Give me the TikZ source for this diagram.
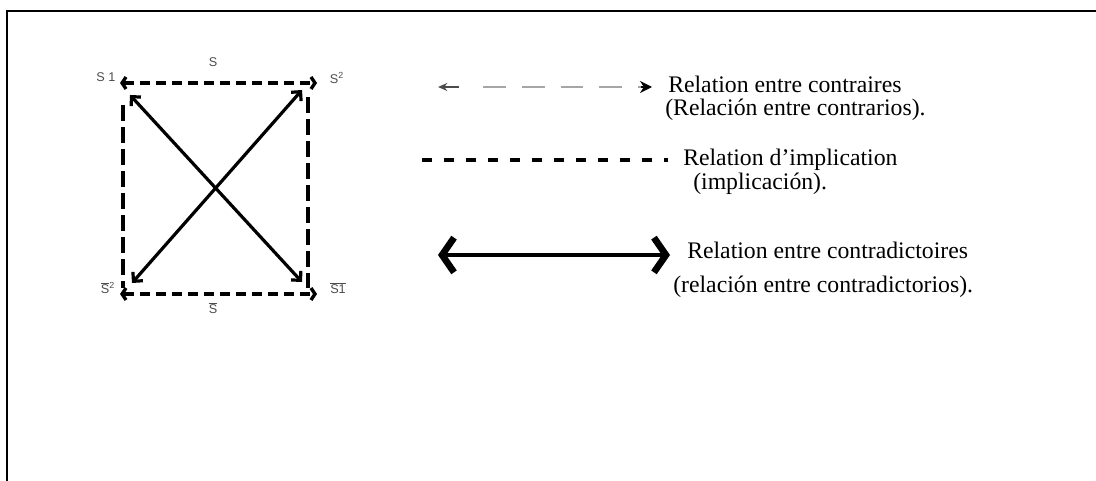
\documentclass[tikz,border=0pt]{standalone}
\usepackage{fontspec}
\setmainfont{Liberation Serif}
\setsansfont{Liberation Sans}
\usetikzlibrary{arrows.meta}
\tikzset{
  side/.style={line width=2.8pt,dash pattern=on 12pt off 4.5pt},
  opp/.style={line width=2.5pt,dash pattern=on 7.5pt off 4.5pt,
    {Straight Barb[length=3pt,width=9pt]}-{Straight Barb[length=3pt,width=9pt]}},
  diag/.style={line width=2.4pt,{Straight Barb[length=5pt,width=10pt]}-{Straight Barb[length=5pt,width=10pt]}},
  legtext/.style={anchor=base west,inner sep=0,font=\fontsize{17.8}{18}\selectfont},
  lbl/.style={inner sep=0,font=\sffamily\fontsize{9.5}{10}\selectfont,text=black!70}
}
\newcommand{\ovl}[1]{$\overline{\mbox{#1}}$}
\begin{document}
\begin{tikzpicture}[x=0.75pt,y=-0.75pt]
\useasboundingbox (0,0) rectangle (1096,481);
% frame
\draw[line width=2pt] (1096,11) -| (7,481);
% square
\coordinate (tl) at (120,83);
\coordinate (tr) at (317,83);
\coordinate (bl) at (120,294);
\coordinate (br) at (317,294);
\draw[opp] (tl) -- (tr);
\draw[opp] (bl) -- (br);
\draw[side] ([shift={(3,22)}]tl) -- ([shift={(3,-6)}]bl);
\draw[side] ([shift={(-9,14)}]tr) -- ([shift={(-9,-6)}]br);
\draw[diag] ([shift={(10,12)}]tl) -- ([shift={(-15,-12)}]br);
\draw[diag] ([shift={(-15,7)}]tr) -- ([shift={(12,-11)}]bl);
\node[lbl] (s) at (213,62) {S};
\node[lbl] (s1) at (106,77) {S 1};
\node[lbl] (s2) at (337,78) {S\textsuperscript{2}};
\node[lbl] (ns2) at (108,288) {\ovl{S}\textsuperscript{2}};
\node[lbl] (ns1) at (338,288) {\ovl{S1}};
\node[lbl] (ns) at (213,308) {\ovl{S}};
% legend
\coordinate (c1) at (438,87);
\coordinate (c2) at (652,87);
\draw[black!35,line width=1.4pt,dash pattern=on 17pt off 12pt] ([xshift=34]c1) -- ([xshift=-6]c2);
\draw[black!70,line width=1.5pt,-{Stealth[length=7pt,width=6pt]}] ([xshift=16]c1) -- (c1);
\draw[line width=1.5pt,-{Stealth[length=9pt,width=9pt]}] ([xshift=-8]c2) -- (c2);
\node[legtext] (t1) at (668,93) {Relation entre contraires};
\node[legtext] (t2) at (665,116) {(Relación entre contrarios).};
\coordinate (i1) at (422,160);
\coordinate (i2) at (668,160);
\draw[line width=3pt,dash pattern=on 7.5pt off 9pt] (i1) -- (i2);
\node[legtext] (t3) at (683,166) {Relation d’implication};
\node[legtext] (t4) at (693,190) {(implicación).};
\coordinate (k1) at (438,255);
\coordinate (k2) at (670,255);
\draw[line width=2.8pt,{Straight Barb[length=9pt,width=26pt,line width=5pt]}-{Straight Barb[length=9pt,width=26pt,line width=5pt]}] (k1) -- (k2);
\node[legtext] (t5) at (687,258) {Relation entre contradictoires};
\node[legtext] (t6) at (673,292) {(relación entre contradictorios).};
\end{tikzpicture}
\end{document}
